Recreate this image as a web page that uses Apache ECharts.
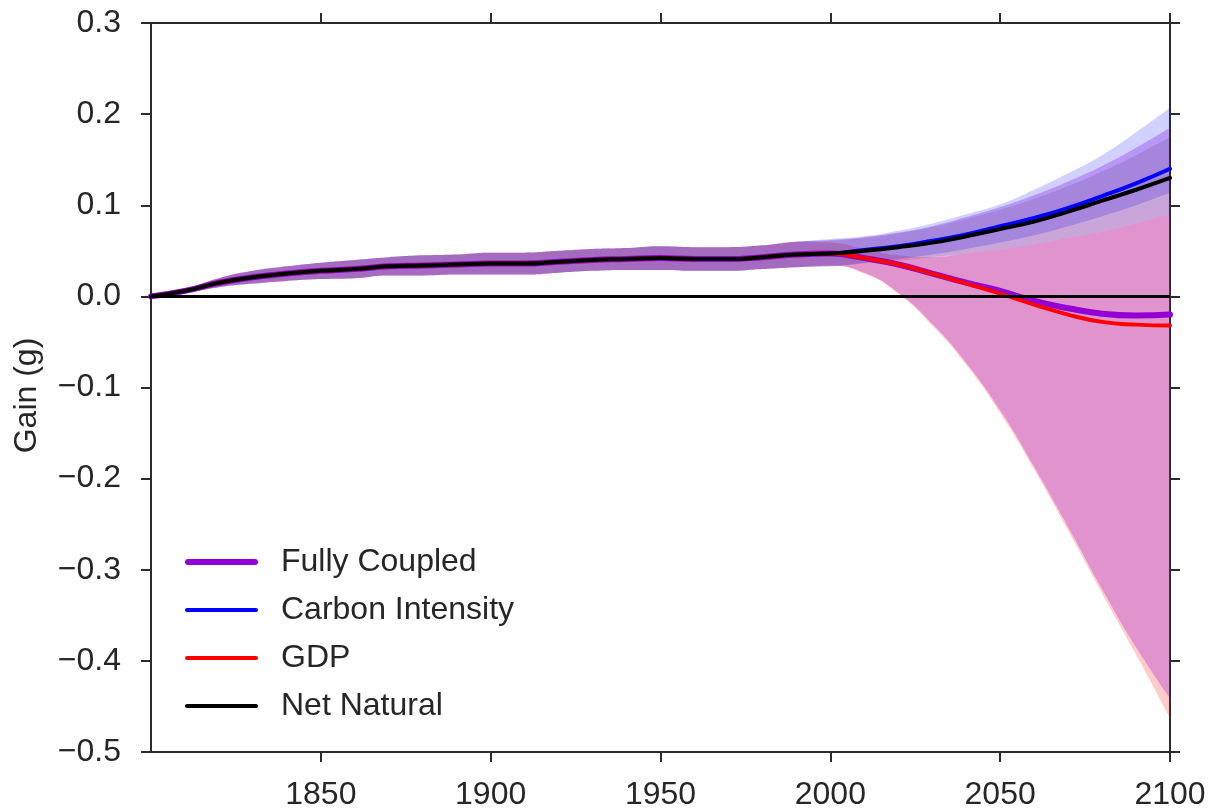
<!DOCTYPE html>
<html>
<head>
<meta charset="utf-8">
<script src="https://cdn.jsdelivr.net/npm/echarts@6/dist/echarts.min.js"></script>
<style>
  html, body { margin: 0; padding: 0; background: #ffffff; }
  #chart { width: 1213px; height: 811px; }
</style>
</head>
<body>
<div id="chart"></div>
<script>
// ---------------- data ----------------
const years = [1800,1810,1820,1830,1840,1850,1860,1870,1880,1890,1900,1910,1920,1930,1940,1950,1960,1970,1980,1990,2000,2010,2020,2030,2040,2050,2060,2070,2080,2090,2100];

const netNatural      = [0.000,0.006,0.015,0.021,0.025,0.028,0.030,0.033,0.034,0.035,0.036,0.036,0.038,0.040,0.041,0.042,0.041,0.041,0.043,0.046,0.047,0.050,0.054,0.059,0.066,0.074,0.082,0.093,0.105,0.117,0.130];
const carbonIntensity = [0.000,0.006,0.015,0.021,0.025,0.028,0.030,0.033,0.034,0.035,0.036,0.036,0.038,0.040,0.041,0.042,0.041,0.041,0.043,0.046,0.047,0.051,0.055,0.061,0.068,0.077,0.086,0.097,0.110,0.124,0.140];
const gdp             = [0.000,0.006,0.015,0.021,0.025,0.028,0.030,0.033,0.034,0.035,0.036,0.036,0.038,0.040,0.041,0.042,0.041,0.041,0.043,0.046,0.047,0.042,0.035,0.025,0.014,0.003,-0.009,-0.020,-0.028,-0.031,-0.032];
const fullyCoupled    = [0.000,0.006,0.015,0.021,0.025,0.028,0.030,0.033,0.034,0.035,0.036,0.036,0.038,0.040,0.041,0.042,0.041,0.041,0.043,0.046,0.047,0.042,0.035,0.025,0.015,0.006,-0.005,-0.013,-0.019,-0.021,-0.020];

// uncertainty bands (low / high)
const fullyHigh  = [0.000,0.008,0.020,0.028,0.033,0.037,0.040,0.043,0.045,0.046,0.048,0.048,0.050,0.052,0.053,0.055,0.054,0.054,0.056,0.060,0.062,0.065,0.070,0.077,0.087,0.098,0.111,0.126,0.143,0.163,0.185];
const fullyLow   = [0.000,0.004,0.010,0.014,0.017,0.019,0.020,0.023,0.023,0.024,0.024,0.024,0.026,0.028,0.029,0.029,0.028,0.028,0.030,0.032,0.034,0.026,0.004,-0.030,-0.073,-0.125,-0.187,-0.253,-0.321,-0.385,-0.441];
const carbonHigh = [0.000,0.008,0.020,0.028,0.033,0.037,0.040,0.043,0.045,0.046,0.048,0.048,0.050,0.052,0.053,0.055,0.054,0.054,0.056,0.060,0.063,0.066,0.072,0.080,0.090,0.101,0.117,0.135,0.155,0.180,0.207];
const carbonLow  = [0.000,0.004,0.010,0.014,0.017,0.019,0.020,0.023,0.023,0.024,0.024,0.024,0.026,0.028,0.029,0.029,0.028,0.028,0.030,0.032,0.033,0.037,0.041,0.046,0.052,0.059,0.067,0.077,0.088,0.100,0.114];
const gdpHigh    = [0.000,0.008,0.020,0.028,0.033,0.037,0.040,0.043,0.045,0.046,0.048,0.048,0.050,0.052,0.053,0.055,0.054,0.054,0.056,0.060,0.059,0.052,0.045,0.043,0.047,0.052,0.057,0.064,0.071,0.080,0.090];
const gdpLow     = [0.000,0.004,0.010,0.014,0.017,0.019,0.020,0.023,0.023,0.024,0.024,0.024,0.026,0.028,0.029,0.029,0.028,0.028,0.030,0.032,0.033,0.025,0.003,-0.032,-0.075,-0.128,-0.190,-0.257,-0.326,-0.393,-0.463];
const naturalHigh= [0.000,0.008,0.020,0.028,0.033,0.037,0.040,0.043,0.045,0.046,0.048,0.048,0.050,0.052,0.053,0.055,0.054,0.054,0.056,0.060,0.061,0.064,0.069,0.076,0.085,0.095,0.107,0.121,0.137,0.155,0.175];
const naturalLow = [0.000,0.004,0.010,0.014,0.017,0.019,0.020,0.023,0.023,0.024,0.024,0.024,0.026,0.028,0.029,0.029,0.028,0.028,0.030,0.032,0.033,0.036,0.039,0.043,0.047,0.052,0.057,0.064,0.071,0.080,0.090];

const xTicks = [1850,1900,1950,2000,2050,2100];
const seriesNames = ['Fully Coupled','Carbon Intensity','GDP','Net Natural'];

// ---------------- chart ----------------
const FONT = '"Liberation Sans", Arial, Helvetica, sans-serif';
const TXT = '#262626';
const SPINE = '#2b2b2b';
const SMOOTH = 0.5;

const isXTick = (idx) => xTicks.indexOf(years[idx]) >= 0;

function band(id, low, high, color, opacity) {
  return [
    {
      type: 'line', name: id + '_base', stack: id, stackStrategy: 'all',
      data: low.slice(), symbol: 'none', smooth: SMOOTH,
      lineStyle: { width: 0, opacity: 0 }, silent: true, z: 2
    },
    {
      type: 'line', name: id + '_band', stack: id, stackStrategy: 'all',
      data: high.map((h, i) => h - low[i]), symbol: 'none', smooth: SMOOTH,
      lineStyle: { width: 0, opacity: 0 },
      areaStyle: { color: color, opacity: opacity },
      silent: true, z: 2
    }
  ];
}

function line(name, vals, color, width) {
  return {
    type: 'line', name: name, data: vals.slice(), symbol: 'none',
    smooth: SMOOTH,
    lineStyle: { color: color, width: width, cap: 'round' },
    itemStyle: { color: color },
    z: 4
  };
}

const series = [].concat(
  band('gdpB', gdpLow, gdpHigh, '#ff0000', 0.2),
  band('fullyB', fullyLow, fullyHigh, '#9400d3', 0.28),
  band('carbonB', carbonLow, carbonHigh, '#0000ff', 0.18),
  band('naturalB', naturalLow, naturalHigh, '#000000', 0.1),
  [{
    type: 'line', name: 'zero', data: [], symbol: 'none', z: 3, silent: true,
    markLine: {
      silent: true, symbol: 'none', label: { show: false },
      lineStyle: { color: '#000000', width: 3, type: 'solid' },
      data: [{ yAxis: 0 }], animation: false
    }
  }],
  [
    line(seriesNames[0], fullyCoupled, '#9400d3', 6),
    line(seriesNames[1], carbonIntensity, '#0000ff', 4),
    line(seriesNames[2], gdp, '#ff0000', 4),
    line(seriesNames[3], netNatural, '#000000', 4)
  ]
);

const baseX = {
  type: 'category', data: years, boundaryGap: false,
  splitLine: { show: false },
  axisLine: { show: true, onZero: false, lineStyle: { color: SPINE, width: 2 } },
  axisTick: { show: true, inside: false, length: 10, interval: (i) => isXTick(i), lineStyle: { color: SPINE, width: 2 } }
};
const baseY = {
  type: 'value', min: -0.5, max: 0.3, interval: 0.1,
  splitLine: { show: false },
  axisLine: { show: true, onZero: false, lineStyle: { color: SPINE, width: 2 } },
  axisTick: { show: true, inside: false, length: 10, lineStyle: { color: SPINE, width: 2 } }
};

const thick = 'path://M3,0 L70,0 A3,3 0 0 1 70,6 L3,6 A3,3 0 0 1 3,0 Z';
const thin = 'path://M2,0 L71,0 A2,2 0 0 1 71,4 L2,4 A2,2 0 0 1 2,0 Z';

const chart = echarts.init(document.getElementById('chart'), null, { renderer: 'canvas' });
chart.setOption({
  animation: false,
  backgroundColor: '#ffffff',
  textStyle: { fontFamily: FONT },
  grid: { left: 151, right: 43, top: 23, bottom: 57, containLabel: false },
  xAxis: [
    Object.assign({}, baseX, {
      position: 'bottom',
      axisLabel: {
        show: true, interval: (i) => isXTick(i), margin: 27,
        color: TXT, fontSize: 32, fontFamily: FONT
      }
    }),
    Object.assign({}, baseX, { position: 'top', axisLabel: { show: false } })
  ],
  yAxis: [
    Object.assign({}, baseY, {
      position: 'left',
      name: 'Gain (g)', nameLocation: 'middle', nameGap: 108,
      nameTextStyle: { color: TXT, fontSize: 32, fontFamily: FONT, padding: [0, 16, 0, 0] },
      axisLabel: {
        show: true, margin: 30,
        color: TXT, fontSize: 32, fontFamily: FONT,
        formatter: v => (v < -1e-9 ? '\u2212' : '') + Math.abs(v).toFixed(1)
      }
    }),
    Object.assign({}, baseY, { position: 'right', axisLabel: { show: false } })
  ],
  legend: {
    data: [
      { name: seriesNames[0], icon: thick },
      { name: seriesNames[1], icon: thin },
      { name: seriesNames[2], icon: thin },
      { name: seriesNames[3], icon: thin }
    ],
    orient: 'vertical',
    left: 180, top: 539,
    itemWidth: 73, itemHeight: 14, itemGap: 12,
    selectedMode: false,
    textStyle: { color: TXT, fontSize: 32, fontFamily: FONT, lineHeight: 36, padding: [0, 0, 0, 18] }
  },
  series: series
});
</script>
</body>
</html>
